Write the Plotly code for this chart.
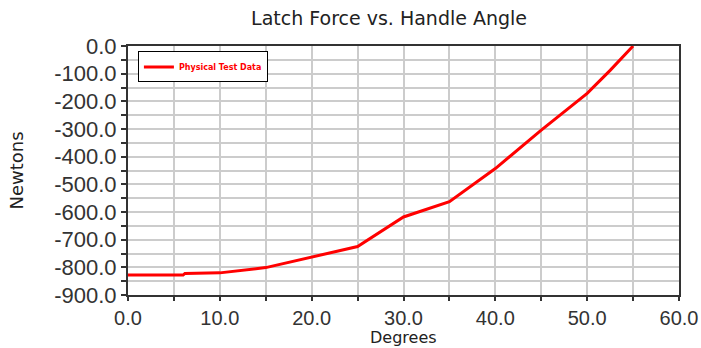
import plotly.graph_objects as go

# Handle angle (degrees) and latch force (newtons) from the physical test
angle_deg = [0.0, 6.0, 6.2, 10.0, 15.0, 20.0, 25.0, 30.0, 35.0, 40.0, 45.0, 50.0, 52.5, 55.0]
force_n = [-828, -828, -822, -820, -801, -764, -725, -618, -563, -443, -304, -171, -88, 0]

y_tickvals = [0, -100, -200, -300, -400, -500, -600, -700, -800, -900]
y_ticktext = ["0.0", "-100.0", "-200.0", "-300.0", "-400.0", "-500.0",
              "-600.0", "-700.0", "-800.0", "-900.0"]
x_tickvals = [0, 10, 20, 30, 40, 50, 60]
x_ticktext = ["0.0", "10.0", "20.0", "30.0", "40.0", "50.0", "60.0"]

grid = "#cccccc"
axis_line = "#333333"
tick_font = dict(family="Liberation Sans, Arial, sans-serif", size=22, color="#333333")
label_font = dict(family="DejaVu Sans, Verdana, sans-serif", size=18, color="#222222")

fig = go.Figure()
fig.add_trace(go.Scatter(
    x=angle_deg, y=force_n, mode="lines", name="<b>Physical Test Data</b>",
    line=dict(color="#ff0000", width=3),
))

fig.update_layout(
    width=701, height=348,
    margin=dict(l=128, r=22, t=46, b=53),
    paper_bgcolor="white", plot_bgcolor="white",
    title=dict(text="Latch Force vs. Handle Angle", x=0.555, xanchor="center",
               y=0.948, yanchor="middle",
               font=dict(family="DejaVu Sans, Verdana, sans-serif", size=19, color="#222222")),
    showlegend=True,
    legend=dict(x=0.018, y=0.978, xanchor="left", yanchor="top",
                bordercolor="#000000", borderwidth=1, bgcolor="white",
                font=dict(family="DejaVu Sans, Verdana, sans-serif", size=8, color="#ff0000"),
                itemwidth=30, tracegroupgap=0),
)

# x-axis title sits right at the bottom edge, below the tick labels
fig.add_annotation(
    text="Degrees", xref="paper", yref="paper", x=0.5, y=-0.2129,
    xanchor="center", yanchor="bottom", showarrow=False, borderpad=0,
    font=dict(label_font, size=16),
)

fig.update_xaxes(
    range=[0, 60], tickmode="array", tickvals=x_tickvals, ticktext=x_ticktext,
    ticks="outside", ticklen=4, tickcolor=axis_line, tickwidth=2,
    showline=True, linecolor=axis_line, linewidth=2, mirror=True,
    showgrid=True, gridcolor=grid, gridwidth=1.5,
    minor=dict(tickvals=[5, 15, 25, 35, 45, 55], ticks="outside", ticklen=4,
               tickcolor=axis_line, showgrid=True, gridcolor=grid, gridwidth=1.5),
    tickfont=dict(tick_font, size=20), zeroline=False, automargin=False,
)
fig.update_yaxes(
    range=[-900, 0], tickmode="array", tickvals=y_tickvals, ticktext=y_ticktext,
    ticks="outside", ticklen=5, tickcolor=axis_line, tickwidth=2,
    showline=True, linecolor=axis_line, linewidth=2, mirror=True,
    showgrid=True, gridcolor=grid, gridwidth=1.5,
    minor=dict(tickvals=[-50, -150, -250, -350, -450, -550, -650, -750, -850],
               ticks="outside", ticklen=5, tickcolor=axis_line,
               showgrid=True, gridcolor=grid, gridwidth=1.5),
    tickfont=tick_font, zeroline=False, automargin=False,
    title=dict(text="Newtons", font=label_font, standoff=26),
)

fig.write_html("out.html")
